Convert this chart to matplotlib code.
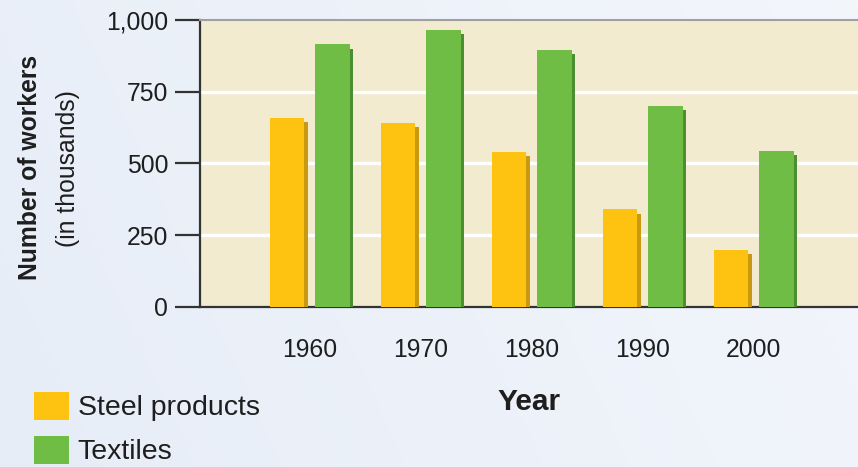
import numpy as np
import matplotlib
matplotlib.use("Agg")
import matplotlib.pyplot as plt
import matplotlib.patheffects as pe

years = ["1960", "1970", "1980", "1990", "2000"]
steel = [660, 640, 540, 340, 200]
textiles = [915, 965, 895, 700, 545]
series_names = ["Steel products", "Textiles"]
yticks = [0, 250, 500, 750, 1000]
ytick_labels = ["0", "250", "500", "750", "1,000"]

FONT = ["Liberation Sans Narrow", "Liberation Sans", "DejaVu Sans"]
plt.rcParams["font.family"] = FONT
TXT = "#1e1e1e"

fig = plt.figure(figsize=(8.58, 4.67), dpi=100)

# background gradient
bg = fig.add_axes([0, 0, 1, 1], zorder=-10)
gx = np.linspace(0, 1, 256)
gy = np.linspace(0, 1, 64)
G = np.clip(0.55 * gx[None, :] + 0.45 * (1 - gy[:, None]) * 0.3, 0, 1)
c0 = np.array([0.905, 0.930, 0.970])
c1 = np.array([0.975, 0.982, 0.995])
img = c0[None, None, :] * (1 - G[..., None]) + c1[None, None, :] * G[..., None]
bg.imshow(img, aspect="auto", extent=[0, 1, 0, 1], origin="upper")
bg.set_axis_off()

ax = fig.add_axes([200 / 858, 1 - 307 / 467, 658 / 858, 287 / 467])
ax.set_facecolor("#f2ebcf")

x = np.arange(len(years))
w = 0.31
steel_face, steel_shadow = "#fec210", "#c99a10"
tex_face, tex_shadow = "#70bd45", "#4c8f30"

b1 = ax.bar(x - 0.205, steel, width=w, color=steel_face, edgecolor="none",
            zorder=3, label=series_names[0])
b2 = ax.bar(x + 0.205, textiles, width=w, color=tex_face, edgecolor="none",
            zorder=3, label=series_names[1])
for p in b1:
    p.set_path_effects([pe.SimplePatchShadow(offset=(2.6, -3.0), shadow_rgbFace=steel_shadow, alpha=1.0), pe.Normal()])
for p in b2:
    p.set_path_effects([pe.SimplePatchShadow(offset=(2.6, -3.0), shadow_rgbFace=tex_shadow, alpha=1.0), pe.Normal()])

ax.set_xlim(-0.99, 4.94)
ax.set_ylim(0, 1000)

ax.set_yticks(yticks)
ax.set_yticklabels(ytick_labels)
ax.set_xticks(x)
ax.set_xticklabels(years)

for yv in yticks[1:-1]:
    ax.axhline(yv, color="white", lw=2.4, zorder=1)

ax.tick_params(axis="y", length=18, width=1.6, color="#333333", pad=5,
               labelsize=17.8, labelcolor=TXT)
ax.tick_params(axis="x", length=0, pad=22, labelsize=17.8, labelcolor=TXT)

ax.spines["right"].set_visible(False)
ax.spines["top"].set_color("#a0a0a0")
ax.spines["top"].set_linewidth(1.5)
ax.spines["left"].set_color("#333333")
ax.spines["left"].set_linewidth(1.6)
ax.spines["bottom"].set_color("#333333")
ax.spines["bottom"].set_linewidth(1.6)

ax.set_xlabel("Year", fontsize=21.5, fontweight="bold", color=TXT, labelpad=19)

fig.text(30 / 858, 1 - 167 / 467, "Number of workers", rotation=90,
         ha="center", va="center", fontsize=17.8, fontweight="bold", color=TXT)
fig.text(68 / 858, 1 - 169 / 467, "(in thousands)", rotation=90,
         ha="center", va="center", fontsize=17.8, color=TXT)

leg = fig.legend(handles=[b1, b2], labels=series_names, loc="upper left",
                 bbox_to_anchor=(28 / 858, 1 - 386 / 467), frameon=False,
                 fontsize=20.5, handlelength=1.25, handleheight=1.15,
                 handletextpad=0.3, labelspacing=0.5, borderaxespad=0,
                 borderpad=0.2)
for t in leg.get_texts():
    t.set_color(TXT)
for h in leg.legend_handles:
    h.set_path_effects([])

fig.savefig("out.png", dpi=100)
